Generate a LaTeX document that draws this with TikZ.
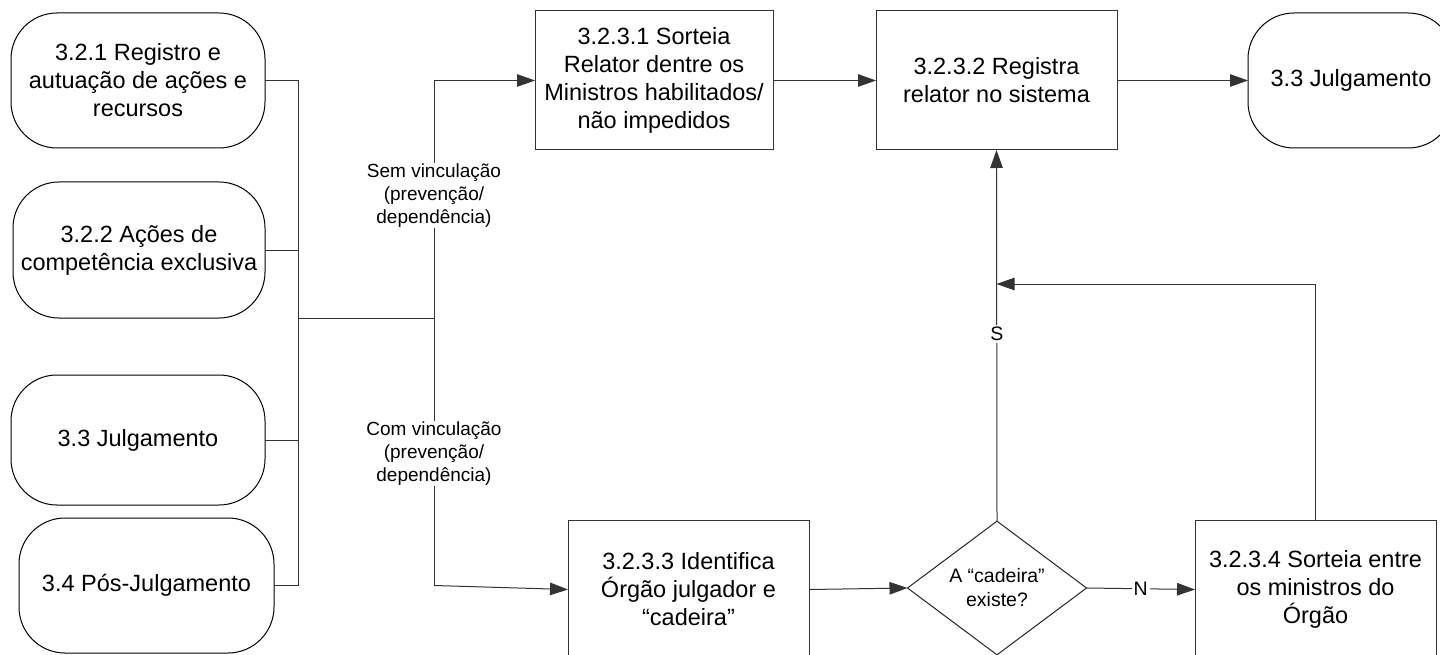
\documentclass[tikz,border=0pt]{standalone}
\usepackage{fontspec}
\setmainfont{Liberation Sans}
\usetikzlibrary{arrows.meta,shapes.geometric}
\begin{document}
\begin{tikzpicture}[x=1pt,y=-1pt,
  line width=1pt,
  every node/.style={inner sep=0pt, outer sep=0pt},
  term/.style={draw=black, rounded corners=46pt, align=center, font=\fontsize{23.5}{28}\selectfont},
  proc/.style={draw=black!80, align=center, font=\fontsize{23.5}{28}\selectfont},
  dec/.style={draw=black!85, diamond, align=center, font=\fontsize{19.5}{24}\selectfont},
  lbl/.style={fill=white, align=center, inner sep=1pt, font=\fontsize{19}{23}\selectfont},
  yn/.style={fill=white, inner sep=2pt, font=\fontsize{19.5}{23}\selectfont},
  arr/.style={draw=black!80, -{Triangle[length=18pt,width=12.5pt]}},
  ln/.style={draw=black!80}]
\useasboundingbox (0,0) rectangle (1440,655);
\clip (0,0) rectangle (1440,655);
\fill[white] (0,0) rectangle (1440,655);

% left terminators
\node[term, minimum width=254pt, minimum height=135pt] (n1) at (138,80.5) {3.2.1 Registro e\\autuação de ações e\\recursos};
\node[term, minimum width=252pt, minimum height=136pt] (n2) at (139,250) {3.2.2 Ações de\\competência exclusiva};
\node[term, minimum width=254pt, minimum height=130pt] (n3) at (138,440) {3.3 Julgamento};
\node[term, minimum width=255pt, minimum height=135pt] (n4) at (146.5,585.5) {3.4 Pós-Julgamento};

% process boxes
\node[proc, minimum width=238pt, minimum height=139pt] (a) at (654,80.5) {3.2.3.1 Sorteia\\Relator dentre os\\Ministros habilitados/\\não impedidos};
\node[proc, minimum width=241pt, minimum height=139pt] (b) at (996.5,80.5) {3.2.3.2 Registra\\relator no sistema};
\node[term, minimum width=206pt, minimum height=135pt] (j) at (1351,80.5) {3.3 Julgamento};
\node[proc, minimum width=241pt, minimum height=139pt] (c) at (688.5,589.5) {3.2.3.3 Identifica\\Órgão julgador e\\“cadeira”};
\node[dec, minimum width=179pt, minimum height=133pt] (d) at (997,588) {A “cadeira”\\existe?};
\node[proc, minimum width=241pt, minimum height=139pt] (e) at (1315.5,589.5) {3.2.3.4 Sorteia entre\\os ministros do\\Órgão};

% bus on the left
\coordinate (bt) at (298,80.5);
\coordinate (bb) at (298,585.5);
\coordinate (jn) at (298,318);
\coordinate (sp) at (434,318);
\coordinate (st) at (434,80.5);
\coordinate (sb) at (434,585.5);
\coordinate (mb) at (996.5,284);

\draw[ln] (n1.east) -- (bt) -- (bb) -- (n4.east);
\draw[ln] (n2.east) -- (n2.east -| bt);
\draw[ln] (n3.east) -- (n3.east -| bt);
\draw[ln] (jn) -- (sp);
\draw[ln] (st) -- (sb);
\draw[arr] (st) -- (a.west);
\draw[arr] (sb) -- (c.west);
\node[lbl] (l1) at (434,195.5) {Sem vinculação\\(prevenção/\\dependência)};
\node[lbl] (l2) at (434,453.5) {Com vinculação\\(prevenção/\\dependência)};

% right part
\draw[arr] (a.east) -- (b.west);
\draw[arr] (b.east) -- (j.west);
\draw[arr] (c.east) -- (d.west);
\draw[arr] (d.east) -- node[yn] (ln) {N} (e.west);
\draw[arr] (d.north) -- node[yn, pos=0.504] (ls) {S} (b.south);
\draw[arr] (e.north) |- (mb);
\end{tikzpicture}
\end{document}
